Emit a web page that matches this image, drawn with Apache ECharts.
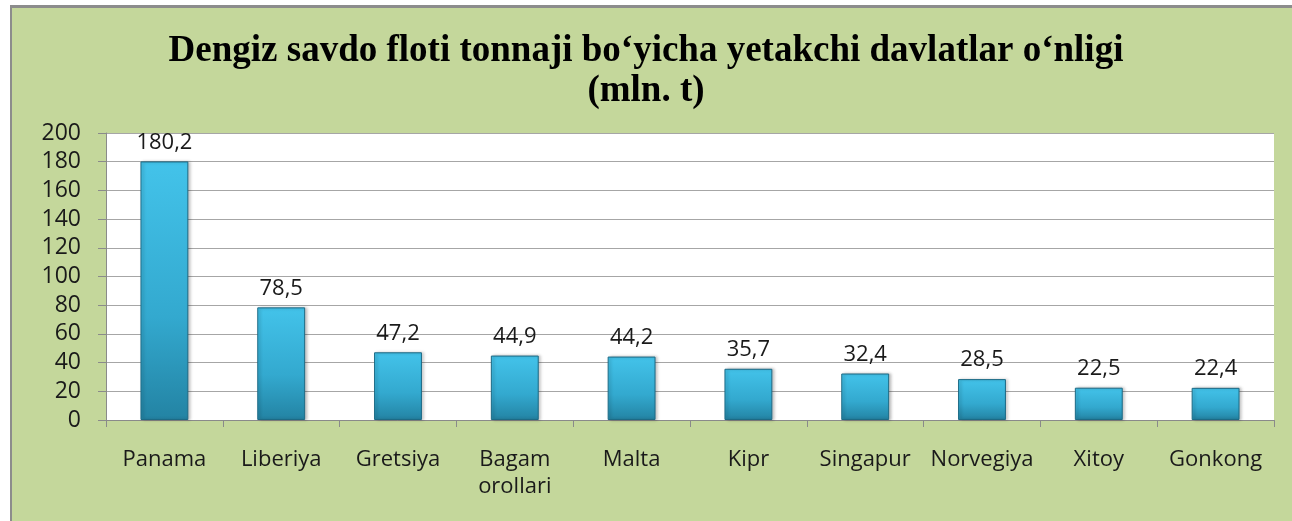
<!DOCTYPE html>
<html>
<head>
<meta charset="utf-8">
<script src="https://cdn.jsdelivr.net/npm/echarts@6/dist/echarts.min.js"></script>
<style>
  html, body { margin: 0; padding: 0; background: #fff; }
  #frame { position: absolute; left: 10px; top: 5px; width: 1282px; height: 516px;
           background: #c4d79b; border-left: 2px solid #8c8c8c; border-top: 3px solid #8c8c8c; box-sizing: border-box; }
  #chart { position: absolute; left: 0; top: 0; width: 1292px; height: 521px; }
</style>
</head>
<body>
<div id="frame"></div>
<div id="chart"></div>
<script>
'use strict';

// mamlakatlar
var countries = ['Panama', 'Liberiya', 'Gretsiya', 'Bagam\norollari', 'Malta',
                 'Kipr', 'Singapur', 'Norvegiya', 'Xitoy', 'Gonkong'];
// tonnaj, mln. t
var tonnage = [180.2, 78.5, 47.2, 44.9, 44.2, 35.7, 32.4, 28.5, 22.5, 22.4];
var yTicks = [0, 20, 40, 60, 80, 100, 120, 140, 160, 180, 200];

var titleText = 'Dengiz savdo floti tonnaji bo‘yicha yetakchi davlatlar o‘nligi\n(mln. t)';

var chart = echarts.init(document.getElementById('chart'), null, { renderer: 'canvas' });

var barColor = {
    type: 'linear', x: 0, y: 0, x2: 0, y2: 1,
    colorStops: [
        { offset: 0, color: '#43c3ea' },
        { offset: 0.6, color: '#33a9cf' },
        { offset: 1, color: '#2383a3' }
    ]
};

chart.setOption({
    backgroundColor: 'transparent',
    animation: false,
    title: {
        text: titleText,
        left: 'center',
        top: 26,
        textStyle: {
            fontFamily: '"Liberation Serif", "DejaVu Serif", serif',
            fontWeight: 'bold',
            fontSize: 37,
            lineHeight: 40,
            color: '#000'
        }
    },
    grid: { left: 106, right: 18, top: 133, bottom: 101, backgroundColor: '#fff', show: true, borderWidth: 0 },
    xAxis: {
        type: 'category',
        data: countries,
        axisLine: { lineStyle: { color: '#8a8a8a', width: 1 } },
        axisTick: { show: true, length: 7, lineStyle: { color: '#8a8a8a' } },
        axisLabel: {
            interval: 0,
            margin: 26,
            fontFamily: '"Open Sans", sans-serif',
            fontSize: 22,
            lineHeight: 27,
            color: '#1a1a1a'
        }
    },
    yAxis: {
        type: 'value',
        min: yTicks[0],
        max: yTicks[yTicks.length - 1],
        interval: 20,
        axisLine: { show: true, lineStyle: { color: '#8a8a8a', width: 1 } },
        axisTick: { show: true, length: 8, lineStyle: { color: '#8a8a8a' } },
        splitLine: { lineStyle: { color: '#a6a6a6', width: 1 } },
        axisLabel: {
            margin: 25,
            fontFamily: '"Open Sans", sans-serif',
            fontSize: 23,
            color: '#1a1a1a'
        }
    },
    series: [{
        type: 'bar',
        data: tonnage,
        barWidth: '41%',
        itemStyle: {
            color: barColor,
            borderColor: '#1d6a85',
            borderWidth: 1,
            shadowColor: 'rgba(0,0,0,0.25)',
            shadowBlur: 3,
            shadowOffsetX: 2
        },
        label: {
            show: true,
            position: 'top',
            distance: 8,
            fontFamily: '"Open Sans", sans-serif',
            fontSize: 22,
            color: '#1a1a1a',
            formatter: function (p) { return String(p.value).replace('.', ','); }
        }
    }]
});
</script>
</body>
</html>
